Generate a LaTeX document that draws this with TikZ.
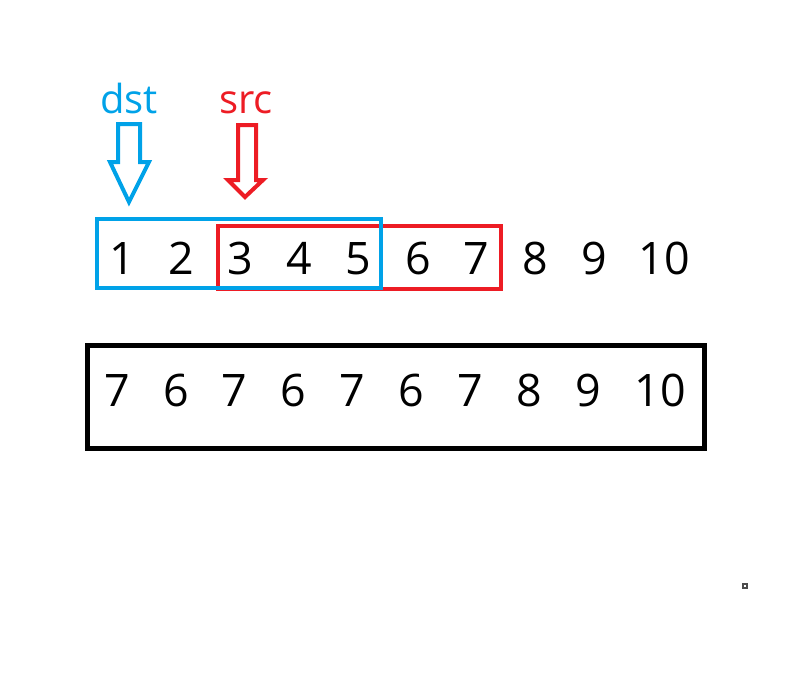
\documentclass[tikz,border=0pt]{standalone}
\usepackage{fontspec}
\setmainfont{Open Sans}
\usepackage{tikz}
\definecolor{dstblue}{RGB}{0,162,232}
\definecolor{srcred}{RGB}{237,28,36}
\tikzstyle{num} = [anchor=base, inner sep=0pt, font=\fontsize{33.6}{40}\selectfont]
\tikzstyle{tag} = [anchor=base, inner sep=0pt, font=\fontsize{30}{36}\selectfont]
\tikzstyle{frame} = [draw, line width=3pt]
\tikzstyle{blockarrow} = [draw, line width=3pt, line join=miter]

\begin{document}
\begin{tikzpicture}[x=0.75pt, y=-0.75pt]
        \useasboundingbox (0,0) rectangle (807,687);
        \node[tag, text=dstblue] (dst) at (129,113) {dst};
        \node[tag, text=srcred] (src) at (246,113) {src};
        % top row
        \node[num] (a1) at (122,274) {1};
        \node[num] (a2) at (181,274) {2};
        \node[num] (a3) at (240,274) {3};
        \node[num] (a4) at (299,274) {4};
        \node[num] (a5) at (358,274) {5};
        \node[num] (a6) at (418,274) {6};
        \node[num] (a7) at (476,274) {7};
        \node[num] (a8) at (535,274) {8};
        \node[num] (a9) at (594,274) {9};
        \node[num] (a10) at (664,274) {10};
        % result row
        \node[num] (b1) at (117,406) {7};
        \node[num] (b2) at (176,406) {6};
        \node[num] (b3) at (234,406) {7};
        \node[num] (b4) at (293,406) {6};
        \node[num] (b5) at (352,406) {7};
        \node[num] (b6) at (411,406) {6};
        \node[num] (b7) at (470,406) {7};
        \node[num] (b8) at (529,406) {8};
        \node[num] (b9) at (588,406) {9};
        \node[num] (b10) at (660,406) {10};
        % windows
        \draw[frame, srcred] (218,226) rectangle (501,289);
        \draw[frame, dstblue] (97,219) rectangle (381,288);
        \draw[frame, line width=3.75pt] (87,345) rectangle (704,448);
        % pointers
        \draw[blockarrow, dstblue] (118,124) -- (140,124) -- (140,162) -- (149,162)
            -- (129,202) -- (110,162) -- (118,162) -- cycle;
        \draw[blockarrow, srcred] (238,125) -- (256,125) -- (256,180) -- (263,180)
            -- (245,197) -- (228,180) -- (238,180) -- cycle;
        \draw[draw=black!70, line width=1pt, fill=white] (743,584) rectangle (747,588);
    \end{tikzpicture}
\end{document}
